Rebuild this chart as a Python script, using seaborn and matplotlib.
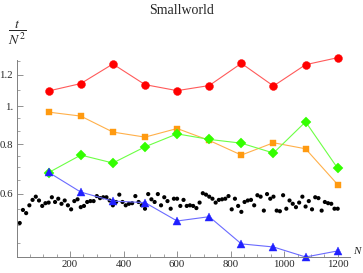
import numpy as np
import matplotlib
matplotlib.use("Agg")
import matplotlib.pyplot as plt
import seaborn as sns
from matplotlib.ticker import FixedLocator, FixedFormatter, NullFormatter

# series sampled every 120 nodes
n_coarse = [120, 240, 360, 480, 600, 720, 840, 960, 1080, 1200]
red_vals = [1.093, 1.141, 1.279, 1.134, 1.095, 1.128, 1.284, 1.125, 1.274, 1.327]
orange_vals = [0.966, 0.944, 0.860, 0.835, 0.878, 0.819, 0.752, 0.808, 0.780, 0.633]
green_vals = [0.679, 0.752, 0.718, 0.789, 0.851, 0.824, 0.806, 0.761, 0.913, 0.696]
blue_vals = [0.680, 0.606, 0.575, 0.570, 0.512, 0.525, 0.448, 0.440, 0.415, 0.430]

# dense series, every 12 nodes
n_fine = list(range(12, 1201, 12))
black_vals = [
    0.506, 0.546, 0.536, 0.561, 0.579, 0.590, 0.577, 0.559, 0.568, 0.570,
    0.588, 0.572, 0.583, 0.566, 0.577, 0.561, 0.548, 0.575, 0.581, 0.555,
    0.559, 0.572, 0.575, 0.575, 0.592, 0.585, 0.588, 0.588, 0.577, 0.561,
    0.572, 0.597, 0.572, 0.561, 0.566, 0.568, 0.592, 0.572, 0.561, 0.550,
    0.599, 0.581, 0.572, 0.599, 0.561, 0.588, 0.575, 0.550, 0.583, 0.583,
    0.559, 0.579, 0.559, 0.561, 0.559, 0.552, 0.570, 0.602, 0.597, 0.590,
    0.583, 0.570, 0.579, 0.581, 0.583, 0.592, 0.548, 0.583, 0.559, 0.540,
    0.572, 0.577, 0.579, 0.561, 0.595, 0.590, 0.544, 0.599, 0.583, 0.590,
    0.544, 0.542, 0.595, 0.550, 0.577, 0.566, 0.555, 0.570, 0.590, 0.557,
    0.575, 0.548, 0.588, 0.585, 0.544, 0.572, 0.568, 0.566, 0.550, 0.550,
]

y_major = [0.6, 0.8, 1.0, 1.2]
y_major_labels = ["0.6", "0.8", "1.", "1.2"]
x_major = [200, 400, 600, 800, 1000, 1200]

sns.set_style("white")
plt.rcParams["font.family"] = ["Liberation Serif", "DejaVu Serif"]
plt.rcParams["mathtext.fontset"] = "stix"

fig = plt.figure(figsize=(3.63, 2.73), dpi=100)
ax = fig.add_axes([0.0455, 0.0586, 0.918, 0.722])

series = [
    (red_vals, "o", "#ff0000", "#ff5a5a", 5.7),
    (orange_vals, "s", "#ff9a10", "#ffb04a", 4.8),
    (green_vals, "D", "#33ff00", "#6cff44", 4.6),
    (blue_vals, "^", "#2020ff", "#6a6aff", 5.4),
]
for vals, mk, mcol, lcol, ms in series:
    sns.lineplot(x=n_coarse, y=vals, ax=ax, color=lcol, linewidth=0.8,
                 marker=mk, markersize=ms, markerfacecolor=mcol,
                 markeredgecolor=mcol, markeredgewidth=0.3, clip_on=False)

sns.scatterplot(x=n_fine, y=black_vals, ax=ax, color="black", s=9,
                edgecolor="none", clip_on=False)

ax.set_yscale("log")
ax.set_xlim(0, 1245)
ax.set_ylim(0.415, 1.31)

ax.yaxis.set_major_locator(FixedLocator(y_major))
ax.yaxis.set_major_formatter(FixedFormatter(y_major_labels))
ax.yaxis.set_minor_locator(FixedLocator([0.45, 0.5, 0.55, 0.65, 0.7, 0.75,
                                         0.867, 0.933, 1.1, 1.3]))
ax.yaxis.set_minor_formatter(NullFormatter())
ax.xaxis.set_major_locator(FixedLocator(x_major))
ax.xaxis.set_minor_locator(FixedLocator(range(50, 1245, 50)))

for s in ["top", "right"]:
    ax.spines[s].set_visible(False)
for s in ["left", "bottom"]:
    ax.spines[s].set_color("#808080")
    ax.spines[s].set_linewidth(0.7)

ax.tick_params(axis="both", which="major", direction="in", length=4,
               width=0.6, color="#808080", labelsize=7.8, pad=2.5,
               left=True, bottom=True)
ax.tick_params(axis="both", which="minor", direction="in", length=2,
               width=0.5, color="#808080", left=True, bottom=True)
ax.set_xlabel("")
ax.set_ylabel("")

fig.text(0.5, 1 - 11 / 273, "Smallworld", ha="center", va="center", fontsize=10)
fig.text(17 / 363, 1 - 33 / 273, r"$\dfrac{t}{N^2}$", ha="center", va="center",
         fontsize=10)
fig.text(357 / 363, 1 - 252 / 273, "N", ha="center", va="center",
         fontsize=8, style="italic")

fig.savefig("out.png", dpi=100)
